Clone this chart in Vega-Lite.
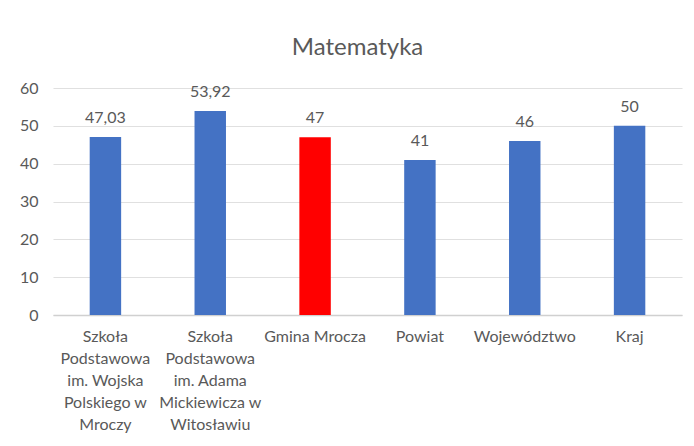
{
  "$schema": "https://vega.github.io/schema/vega-lite/v6.json",
  "autosize": {"type": "none"},
  "width": 629,
  "height": 227,
  "padding": {"left": 53, "top": 88, "right": 12, "bottom": 131},
  "background": "white",
  "config": {
    "font": "Lato",
    "view": {"stroke": null},
    "locale": {"number": {"decimal": ",", "thousands": " ", "grouping": [3], "currency": ["", " zł"]}}
  },
  "title": {
    "text": "Matematyka",
    "fontSize": 24,
    "fontWeight": "normal",
    "font": "Lato",
    "color": "#595959",
    "anchor": "middle",
    "baseline": "alphabetic",
    "offset": 1,
    "dx": -10
  },
  "data": {
    "values": [
      {"name": "Szkoła\nPodstawowa\nim. Wojska\nPolskiego w\nMroczy", "wynik": 47.03},
      {"name": "Szkoła\nPodstawowa\nim. Adama\nMickiewicza w\nWitosławiu", "wynik": 53.92},
      {"name": "Gmina Mrocza", "wynik": 47},
      {"name": "Powiat", "wynik": 41},
      {"name": "Województwo", "wynik": 46},
      {"name": "Kraj", "wynik": 50}
    ]
  },
  "encoding": {
    "x": {
      "field": "name",
      "type": "nominal",
      "sort": null,
      "title": null,
      "scale": {"paddingInner": 0.7, "paddingOuter": 0.35},
      "axis": {
        "labelAngle": 0,
        "labelExpr": "split(datum.label, '\\n')",
        "labelFontSize": 16,
        "labelColor": "#595959",
        "labelLineHeight": 22,
        "labelPadding": 13,
        "labelLimit": 0,
        "ticks": false,
        "domainColor": "#d0d0d0",
        "domainWidth": 1.5,
        "grid": false
      }
    },
    "y": {
      "field": "wynik",
      "type": "quantitative",
      "title": null,
      "scale": {"domain": [0, 60], "nice": false},
      "axis": {
        "values": [0, 10, 20, 30, 40, 50, 60],
        "labelFontSize": 16,
        "labelColor": "#595959",
        "labelPadding": 15,
        "ticks": false,
        "domain": false,
        "gridColor": "#e0e0e0",
        "gridWidth": 1.2
      }
    }
  },
  "layer": [
    {
      "mark": {"type": "bar"},
      "encoding": {
        "color": {
          "condition": {"test": "datum.name === 'Gmina Mrocza'", "value": "#FF0000"},
          "value": "#4472C4"
        }
      }
    },
    {
      "mark": {"type": "text", "baseline": "alphabetic", "dy": -14, "fontSize": 16, "color": "#595959"},
      "encoding": {
        "text": {"field": "wynik", "type": "quantitative", "format": "~r"}
      }
    }
  ]
}
